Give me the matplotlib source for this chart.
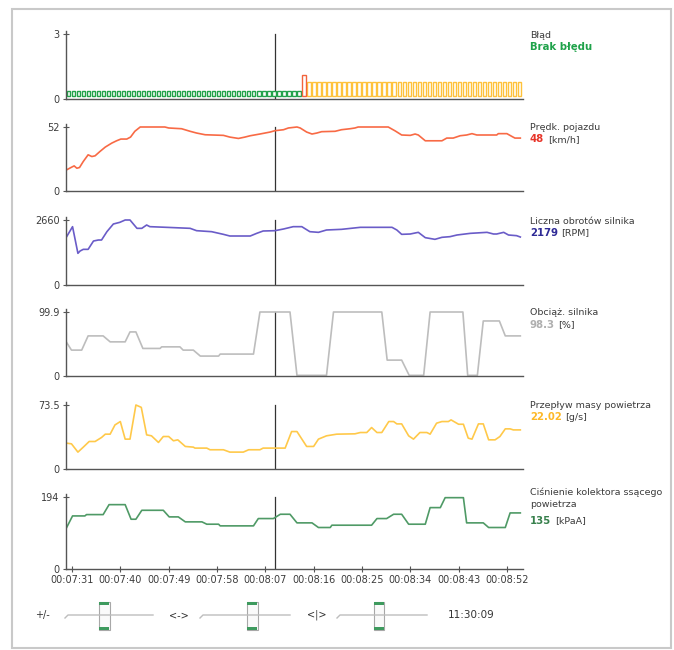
import numpy as np
import matplotlib
matplotlib.use("Agg")
import matplotlib.pyplot as plt
from matplotlib.patches import Rectangle

W, H = 674, 650

# time axis: seconds after 00:07:31
tick_t = [0, 9, 18, 27, 36, 45, 54, 63, 72, 81]
tick_labels = ['00:07:31', '00:07:40', '00:07:49', '00:07:58', '00:08:07',
               '00:08:16', '00:08:25', '00:08:34', '00:08:43', '00:08:52']
cursor_t = 37.8

# error status per sample: 0 = ok, 1 = warning, 2 = new error
status = [0] * 47 + [2] + [1] * 43
status_start, status_period = -0.7, 0.934

# vehicle speed [km/h]
speed_t = [-1.0, -0.1, 0.4, 0.9, 1.4, 2.1, 3.0, 3.7, 4.3, 5.2, 6.2, 7.4, 8.3, 9.1, 10.2,
           10.9, 11.7, 12.7, 17.3, 18.0, 20.4, 22.0, 23.2, 24.8, 28.2, 29.4, 31.0, 32.2,
           33.2, 35.0, 36.9, 37.8, 39.4, 40.3, 41.9, 42.5, 43.7, 44.7, 45.6, 46.5, 49.0,
           50.2, 51.8, 52.7, 53.3, 58.9, 60.2, 61.4, 63.0, 63.9, 64.5, 65.8, 68.9, 69.8,
           71.0, 72.3, 73.5, 74.5, 75.4, 79.1, 79.4, 81.0, 81.9, 82.5, 83.5]
speed_v = [17.2, 19.3, 20.4, 18.5, 19.1, 24.0, 29.4, 28.0, 28.6, 32.1, 35.7, 38.9, 40.8,
           42.2, 42.2, 43.8, 48.5, 52.0, 52.0, 51.2, 50.6, 48.5, 47.1, 45.7, 45.2, 43.8,
           42.7, 43.8, 44.9, 46.3, 47.9, 49.0, 49.8, 51.2, 52.0, 51.2, 47.9, 46.3, 47.1,
           48.2, 48.5, 49.8, 50.6, 51.2, 52.0, 52.0, 48.8, 45.5, 45.2, 46.3, 45.5, 40.8,
           40.8, 43.0, 43.0, 44.9, 45.5, 46.6, 45.5, 45.5, 46.6, 46.6, 44.4, 43.0, 43.0]

# engine rpm
rpm_t = [-1.0, 0.1, 1.1, 1.5, 2.1, 3.0, 4.0, 4.9, 5.5, 6.5, 7.7, 8.9, 9.9, 10.8, 12.1, 13.0,
         13.9, 14.5, 17.6, 22.0, 23.2, 26.0, 28.2, 29.4, 33.2, 34.4, 35.6, 37.8, 39.4, 41.2,
         42.8, 44.3, 45.9, 47.4, 50.2, 53.7, 59.6, 60.5, 61.4, 63.0, 64.5, 65.8, 67.6, 68.9,
         70.4, 71.7, 74.2, 77.3, 78.5, 79.1, 80.4, 81.3, 82.8, 83.5]
rpm_v = [1978, 2387, 1296, 1391, 1459, 1459, 1800, 1841, 1841, 2182, 2496, 2564, 2660, 2660,
         2319, 2319, 2455, 2387, 2360, 2319, 2223, 2182, 2073, 2005, 2005, 2114, 2210, 2223,
         2292, 2387, 2387, 2182, 2155, 2251, 2278, 2360, 2360, 2251, 2073, 2087, 2155, 1937,
         1869, 1951, 1978, 2046, 2114, 2155, 2087, 2087, 2155, 2046, 2019, 1964]

# engine load [%]
load_t = [-1.0, -0.1, 1.8, 3.0, 5.8, 7.1, 9.9, 10.8, 11.9, 13.2, 16.4, 16.7, 20.1, 20.7,
          22.6, 23.9, 27.3, 27.6, 33.8, 35.0, 40.6, 41.9, 47.4, 48.7, 57.7, 58.7, 61.4,
          62.8, 65.5, 66.7, 72.8, 73.7, 75.5, 76.6, 79.6, 80.7, 83.5]
load_v = [52.3, 40.4, 40.4, 62.6, 62.6, 53.3, 53.3, 68.8, 68.8, 43.0, 43.0, 45.5, 45.5,
          40.4, 40.4, 31.1, 31.1, 34.2, 34.2, 99.9, 99.9, 1.0, 1.0, 99.9, 99.9, 24.8, 24.8,
          1.0, 1.0, 99.9, 99.9, 1.0, 1.0, 85.9, 85.9, 62.6, 62.6]

# mass air flow [g/s]
maf_t = [-1.0, -0.1, 1.1, 2.1, 3.2, 4.3, 5.5, 6.2, 7.1, 8.0, 9.0, 9.9, 10.8, 11.9, 12.9,
         13.9, 14.8, 16.1, 17.0, 18.0, 18.9, 19.7, 21.1, 22.6, 22.9, 25.1, 25.7, 28.2, 29.4,
         31.9, 32.9, 35.0, 35.6, 39.7, 40.9, 41.9, 43.7, 45.0, 45.9, 47.4, 49.3, 52.7, 53.7,
         54.9, 55.8, 56.8, 57.7, 59.0, 59.9, 60.5, 61.4, 62.7, 63.6, 64.8, 66.1, 66.7, 67.9,
         68.9, 70.1, 70.6, 72.0, 72.9, 73.8, 74.5, 75.7, 76.6, 77.6, 78.8, 79.7, 80.7, 81.6,
         82.2, 83.5]
maf_v = [29.7, 28.9, 19.4, 25.1, 31.6, 31.6, 36.2, 40.0, 40.0, 50.6, 54.5, 34.3, 34.3, 73.5,
         70.8, 39.2, 38.1, 30.5, 37.3, 37.3, 32.4, 33.5, 25.9, 25.1, 24.0, 24.0, 22.1, 22.1,
         19.4, 19.4, 22.1, 22.1, 24.0, 24.0, 43.0, 43.0, 25.9, 25.9, 34.3, 38.1, 40.0, 40.4,
         41.9, 41.9, 47.6, 41.9, 41.9, 54.5, 54.5, 51.8, 51.8, 38.1, 34.3, 41.9, 41.9, 40.0,
         52.6, 54.5, 54.5, 56.4, 51.4, 51.4, 35.4, 34.3, 51.8, 51.8, 33.5, 33.5, 37.3, 46.1,
         46.1, 44.9, 44.9]

# intake manifold pressure [kPaA]
map_t = [-1.0, 0.1, 2.4, 2.7, 5.8, 6.9, 9.9, 11.0, 11.9, 13.0, 17.0, 18.1, 19.8, 21.1, 24.2,
         25.1, 27.3, 27.6, 33.8, 34.7, 37.5, 38.8, 40.6, 41.9, 44.7, 45.9, 48.1, 48.4, 55.8,
         56.8, 58.6, 59.9, 61.4, 62.7, 65.8, 66.7, 68.6, 69.5, 72.9, 73.5, 76.6, 77.6, 80.7,
         81.6, 83.5]
map_v = [111.8, 143.0, 143.0, 146.6, 146.6, 173.4, 173.4, 134.1, 134.1, 158.2, 158.2, 140.4,
         140.4, 127.0, 127.0, 120.7, 120.7, 116.2, 116.2, 135.9, 135.9, 147.5, 147.5, 124.3,
         124.3, 111.8, 111.8, 118.0, 118.0, 135.9, 135.9, 147.5, 147.5, 120.7, 120.7, 165.4,
         165.4, 192.2, 192.2, 124.3, 124.3, 111.8, 111.8, 151.1, 151.1]

# panel: name, value, unit, colours, data, y max label, pixel rows (zero, top)
panels = [
    ('Prędk. pojazdu', '48', '[km/h]', '#F86A45', '#E8352A', speed_t, speed_v, 52, '52', 191, 127),
    ('Liczna obrotów silnika', '2179', '[RPM]', '#6A5CC8', '#2E2A96', rpm_t, rpm_v, 2660, '2660', 285, 220),
    ('Obciąż. silnika', '98.3', '[%]', '#BDBDBD', '#AFAFAF', load_t, load_v, 99.9, '99.9', 376, 312),
    ('Przepływ masy powietrza', '22.02', '[g/s]', '#FFC94A', '#FDB827', maf_t, maf_v, 73.5, '73.5', 469, 405),
    ('Ciśnienie kolektora ssącego\npowietrza', '135', '[kPaA]', '#4F9A66', '#37804C', map_t, map_v, 194, '194', 569, 497),
]

plt.rcParams['font.family'] = ['DejaVu Sans']
fig = plt.figure(figsize=(W / 100, H / 100), dpi=100)

x0, x1 = 66, 523
xlim = (-1.12, 84.0)
spine_c = '#555555'
txt_c = '#3C3C3C'


def make_axes(zero_px, top_px, ymax, ylab):
    pad = 1.04
    hpx = (zero_px - top_px) * pad
    ax = fig.add_axes([x0 / W, 1 - zero_px / H, (x1 - x0) / W, hpx / H])
    ax.set_xlim(*xlim)
    ax.set_ylim(0, ymax * pad)
    for s in ('top', 'right'):
        ax.spines[s].set_visible(False)
    for s in ('left', 'bottom'):
        ax.spines[s].set_color(spine_c)
        ax.spines[s].set_linewidth(1.0)
    ax.set_yticks([0, ymax])
    ax.set_yticklabels(['0', ylab])
    ax.tick_params(axis='y', direction='inout', length=5, width=0.8, colors=spine_c,
                   labelsize=7, labelcolor=txt_c, pad=2)
    ax.set_xticks([])
    ax.patch.set_alpha(0)
    ax.plot([cursor_t, cursor_t], [0, ymax], color='#333333', lw=0.9, zorder=1)
    return ax


def legend(py, title, value, unit, vcolor, nlines=1):
    fig.text(530 / W, 1 - py / H, title, fontsize=6.8, color=txt_c, va='center', ha='left',
             linespacing=1.45)
    vy = py + 11.5 * nlines
    t = fig.text(530 / W, 1 - vy / H, value, fontsize=7.3, color=vcolor, fontweight='bold',
                 va='center', ha='left')
    if unit:
        fig.text(0, 0, '')
        plt.annotate(unit, xy=(1, 0.5), xycoords=t, xytext=(2.5, 0), textcoords='offset points',
                     fontsize=6.8, color=txt_c, va='center', ha='left')


# error status panel
ax = make_axes(99, 34, 3, '3')
st_colors = {0: '#22A34A', 1: '#FFC23A', 2: '#F2643C'}
st_top = {0: 0.38, 1: 0.78, 2: 1.1}
st_bottom = 0.13
st_t = status_start + status_period * np.arange(len(status))
for code in (0, 1, 2):
    idx = [i for i, c in enumerate(status) if c == code]
    ax.bar(st_t[idx], [st_top[code] - st_bottom] * len(idx), bottom=st_bottom,
           width=status_period * 0.68, facecolor='white', edgecolor=st_colors[code], lw=1.0,
           zorder=2)
legend(35, 'Błąd', 'Brak błędu', '', '#1FA24A')

for i, (title, val, unit, lc, vc, tt, vv, ymax, ylab, zpx, tpx) in enumerate(panels):
    ax = make_axes(zpx, tpx, ymax, ylab)
    ax.plot(tt, vv, color=lc, lw=1.2, zorder=2, solid_joinstyle='round')
    nl = 2 if '\n' in title else 1
    legend(tpx + 1, title, val, unit, vc, nlines=nl)
    if i == len(panels) - 1:
        ax.set_xticks(tick_t)
        ax.set_xticklabels(tick_labels)
        ax.tick_params(axis='x', direction='inout', length=5, width=0.8, colors=spine_c,
                       labelsize=7, labelcolor=txt_c, pad=2)

# outer frame
fig.add_artist(Rectangle((12 / W, 1 - 648 / H), (671 - 12) / W, (648 - 9) / H,
                         transform=fig.transFigure, facecolor='none', edgecolor='#C9C9C9', lw=1.5))

# slider controls
sliders = [('+/-', 35, 65, 153, 104), ('<->', 169, 200, 290, 252), ('<|>', 307, 337, 427, 379)]
sy = 615
for lab, lx, a, b, th in sliders:
    fig.text(lx / W, 1 - sy / H, lab, fontsize=7, color='#333333', va='center', ha='left')
    fig.add_artist(plt.Line2D([a / W, (a + 3) / W, b / W], [1 - (sy + 3) / H, 1 - sy / H, 1 - sy / H],
                              transform=fig.transFigure, color='#BDBDBD', lw=1.0))
    fig.add_artist(Rectangle(((th - 5.5) / W, 1 - 630 / H), 11 / W, 28 / H, transform=fig.transFigure,
                             facecolor='#FAFAFA', edgecolor='#A8A8A8', lw=0.8))
    fig.add_artist(Rectangle(((th - 5) / W, 1 - 605 / H), 10 / W, 3 / H, transform=fig.transFigure,
                             facecolor='#3E9A5E', edgecolor='none'))
    fig.add_artist(Rectangle(((th - 5) / W, 1 - 630 / H), 10 / W, 3 / H, transform=fig.transFigure,
                             facecolor='#3E9A5E', edgecolor='none'))
fig.text(448 / W, 1 - sy / H, '11:30:09', fontsize=7.5, color='#333333', va='center', ha='left')

fig.savefig('out.png', dpi=100)
